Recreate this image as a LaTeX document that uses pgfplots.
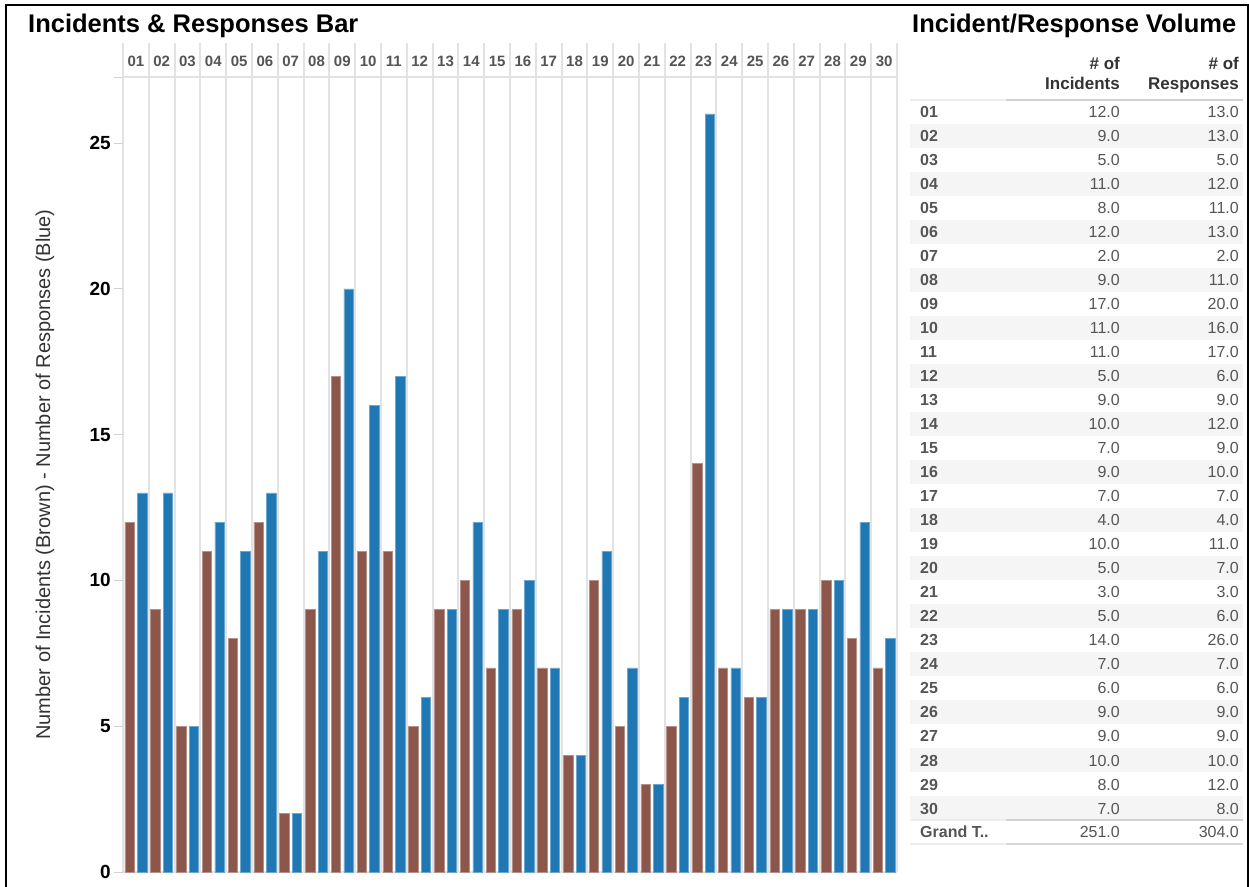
\documentclass[border=0pt]{standalone}
\usepackage{pgfplots}
\pgfplotsset{compat=1.18}
\usepackage{pgfplotstable}
\usepackage{fontspec}
\setmainfont{Liberation Sans}
\definecolor{incbrown}{HTML}{8C564B}
\definecolor{respblue}{HTML}{1F77B4}
\definecolor{divgray}{HTML}{E2E2E2}
\definecolor{txtgray}{HTML}{555555}
\definecolor{hdrgray}{HTML}{333333}
\definecolor{rowgray}{HTML}{F5F5F5}

\pgfplotstableread{
day inc resp
01 12 13
02 9 13
03 5 5
04 11 12
05 8 11
06 12 13
07 2 2
08 9 11
09 17 20
10 11 16
11 11 17
12 5 6
13 9 9
14 10 12
15 7 9
16 9 10
17 7 7
18 4 4
19 10 11
20 5 7
21 3 3
22 5 6
23 14 26
24 7 7
25 6 6
26 9 9
27 9 9
28 10 10
29 8 12
30 7 8
}\data

\begin{document}
\begin{tikzpicture}
\useasboundingbox (0,0) rectangle (1249pt,-886pt);
\fill[white] (0,0) rectangle (1249pt,-886pt);
% frame
\draw[black, line width=2pt] (6pt,-890pt) -- (6pt,-5pt) -- (1248pt,-5pt) -- (1248pt,-890pt);

% titles
\node[anchor=base west, inner sep=0pt, font=\fontsize{25.5}{25.5}\selectfont\bfseries] at (28pt,-32pt) {Incidents \& Responses Bar};
\node[anchor=base west, inner sep=0pt, font=\fontsize{25.5}{25.5}\selectfont\bfseries] at (912pt,-32pt) {Incident/Response Volume};

\begin{axis}[
  scale only axis, width=774pt, height=829pt,
  at={(123pt,-872pt)}, anchor=south west,
  xmin=0.5, xmax=30.5, ymin=0, ymax=28.43,
  axis line style={draw=none},
  xtick={1,...,30},
  xticklabels from table={\data}{day},
  xticklabel pos=upper,
  xtick style={draw=none},
  xticklabel style={font=\fontsize{15}{15}\selectfont\bfseries, text=txtgray, anchor=center, inner sep=0pt},
  xticklabel shift=-27pt,
  minor xtick={0.5,1.5,...,30.5},
  minor tick length=0pt,
  xminorgrids,
  minor grid style={divgray, line width=2pt},
  ytick={0,5,10,15,20,25},
  ytick pos=left,
  tick align=outside,
  major tick length=9pt,
  ytick style={draw=gray!35, line width=1pt},
  yticklabel style={font=\fontsize{19}{19}\selectfont\bfseries, text=black, inner sep=3pt},
  /pgf/number format/assume math mode=true,
  extra y ticks={0,27.26},
  extra y tick labels={},
  extra y tick style={grid=major, major grid style={divgray, line width=2pt}, tick style={draw=none}},
  ylabel={Number of Incidents (Brown) - Number of Responses (Blue)},
  ylabel style={font=\fontsize{20}{20}\selectfont, text=hdrgray, at={(axis description cs:-0.1008,0.4795)}, anchor=center},
  clip=false,
]
\addplot[ybar, bar width=0.36, bar shift=-0.245, fill=incbrown, draw=incbrown!65!white, line width=0.6pt] table[x=day, y=inc]{\data};
\addplot[ybar, bar width=0.36, bar shift=0.245, fill=respblue, draw=respblue!65!white, line width=0.6pt] table[x=day, y=resp]{\data};
\end{axis}

% table
\node[anchor=base east, inner sep=0pt, font=\fontsize{17}{17}\selectfont\bfseries, text=hdrgray] at (1120pt,-69pt) {\# of};
\node[anchor=base east, inner sep=0pt, font=\fontsize{17}{17}\selectfont\bfseries, text=hdrgray] at (1120pt,-89pt) {Incidents};
\node[anchor=base east, inner sep=0pt, font=\fontsize{17}{17}\selectfont\bfseries, text=hdrgray] at (1239pt,-69pt) {\# of};
\node[anchor=base east, inner sep=0pt, font=\fontsize{17}{17}\selectfont\bfseries, text=hdrgray] at (1239pt,-89pt) {Responses};
\draw[gray!15, line width=1.5pt] (910pt,-100pt) -- (1006pt,-100pt);
\draw[gray!35, line width=1.5pt] (1006pt,-100pt) -- (1243pt,-100pt);

\pgfplotstablegetrowsof{\data}
\pgfmathtruncatemacro\nrows{\pgfplotsretval-1}
\foreach \i in {0,...,\nrows} {
  \pgfplotstablegetelem{\i}{day}\of\data \let\dlab\pgfplotsretval
  \pgfplotstablegetelem{\i}{inc}\of\data \let\dinc\pgfplotsretval
  \pgfplotstablegetelem{\i}{resp}\of\data \let\dresp\pgfplotsretval
  \pgfmathsetmacro\yc{-(111.5+24.03*\i)}
  \ifodd\i
    \fill[rowgray] (910pt,\yc pt+12pt) rectangle (1243pt,\yc pt-12pt);
  \fi
  \node[anchor=base west, inner sep=0pt, font=\fontsize{16}{16}\selectfont\bfseries, text=txtgray] at (920pt,\yc pt-5.7pt) {\dlab};
  \node[anchor=base east, inner sep=0pt, font=\fontsize{16}{16}\selectfont, text=txtgray] at (1120pt,\yc pt-5.7pt) {\pgfmathprintnumber[fixed,fixed zerofill,precision=1,assume math mode=true]{\dinc}};
  \node[anchor=base east, inner sep=0pt, font=\fontsize{16}{16}\selectfont, text=txtgray] at (1239pt,\yc pt-5.7pt) {\pgfmathprintnumber[fixed,fixed zerofill,precision=1,assume math mode=true]{\dresp}};
}
% grand total
\draw[gray!15, line width=1.5pt] (910pt,-820pt) -- (1006pt,-820pt);
\draw[gray!35, line width=1.5pt] (1006pt,-820pt) -- (1243pt,-820pt);
\draw[gray!15, line width=1.5pt] (910pt,-844pt) -- (1006pt,-844pt);
\draw[gray!30, line width=1.5pt] (1006pt,-844pt) -- (1243pt,-844pt);
\node[anchor=base west, inner sep=0pt, font=\fontsize{16}{16}\selectfont\bfseries, text=txtgray] at (920pt,-837.5pt) {Grand T..};
\node[anchor=base east, inner sep=0pt, font=\fontsize{16}{16}\selectfont, text=txtgray] at (1120pt,-837.5pt) {251.0};
\node[anchor=base east, inner sep=0pt, font=\fontsize{16}{16}\selectfont, text=txtgray] at (1239pt,-837.5pt) {304.0};
\end{tikzpicture}
\end{document}
